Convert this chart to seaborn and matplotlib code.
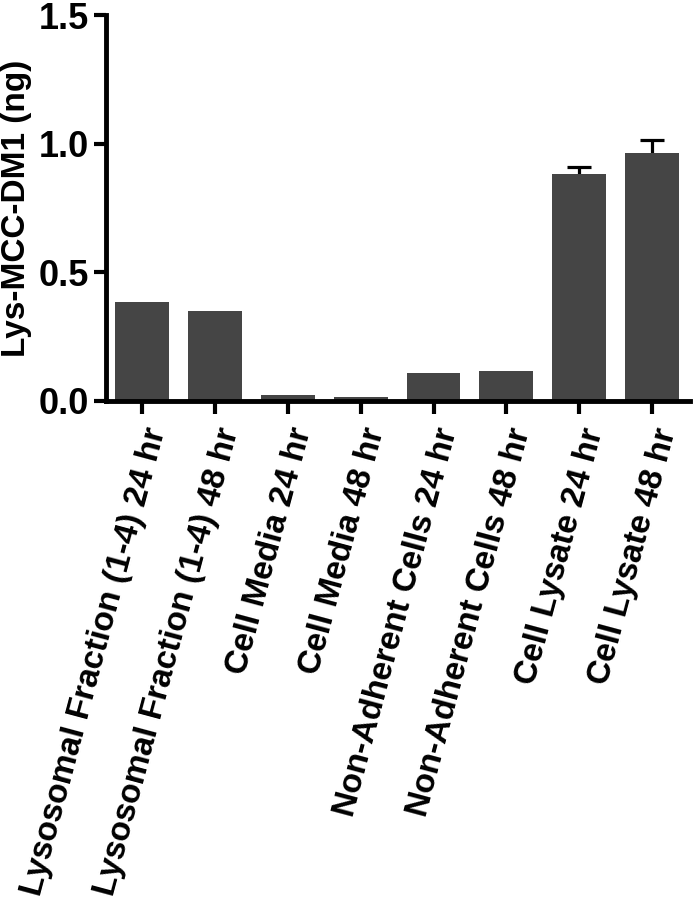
import matplotlib
matplotlib.use("Agg")
import matplotlib.pyplot as plt
import seaborn as sns
import pandas as pd

categories = [
    "Lysosomal Fraction (1-4) 24 hr",
    "Lysosomal Fraction (1-4) 48 hr",
    "Cell Media 24 hr",
    "Cell Media 48 hr",
    "Non-Adherent Cells 24 hr",
    "Non-Adherent Cells 48 hr",
    "Cell Lysate 24 hr",
    "Cell Lysate 48 hr",
]
values = [0.385, 0.350, 0.023, 0.014, 0.110, 0.115, 0.883, 0.964]
errors = [0.0, 0.0, 0.0, 0.0, 0.0, 0.0, 0.025, 0.050]
yticks = [0.0, 0.5, 1.0, 1.5]
ytick_labels = ["0.0", "0.5", "1.0", "1.5"]

sns.set_theme(style="ticks")
plt.rcParams['font.family'] = ['Liberation Sans', 'DejaVu Sans']
plt.rcParams['font.weight'] = 'bold'
for k in ['text.color', 'axes.labelcolor', 'xtick.color', 'ytick.color', 'axes.edgecolor']:
    plt.rcParams[k] = 'black'

df = pd.DataFrame({"cat": categories, "val": values})

fig = plt.figure(figsize=(6.93, 8.99), dpi=100)
ax = fig.add_axes([0.153, 0.554, 0.843, 0.429])

sns.barplot(data=df, x="cat", y="val", color="#454545", saturation=1,
            width=0.74, errorbar=None, ax=ax, zorder=2)
for p in ax.patches:
    p.set_linewidth(0)

xs = list(range(len(categories)))
ex = [x for x, e in zip(xs, errors) if e > 0]
ev = [v for v, e in zip(values, errors) if e > 0]
ee = [e for e in errors if e > 0]
ax.errorbar(ex, ev, yerr=ee, fmt='none', ecolor='black',
            elinewidth=2.3, capsize=8.5, capthick=2.3, zorder=1)

ax.set_xlim(-0.49, 7.52)
ax.set_ylim(0, 1.5)
ax.set_yticks(yticks)
ax.set_yticklabels(ytick_labels, fontsize=26, fontweight='bold')
ax.set_xticks(xs)
ax.set_xticklabels(categories, rotation=75, ha='right', rotation_mode='anchor',
                   fontsize=24, fontweight='bold')
ax.set_xlabel("")
ax.set_ylabel("Lys-MCC-DM1 (ng)", fontsize=24, fontweight='bold', labelpad=5)

for s in ["top", "right"]:
    ax.spines[s].set_visible(False)
for s in ["left", "bottom"]:
    ax.spines[s].set_linewidth(3.5)
    ax.spines[s].set_color("black")
ax.tick_params(axis='both', width=3, length=9, color='black')
ax.tick_params(axis='x', pad=8)
ax.tick_params(axis='y', pad=3)

fig.savefig("out.png", dpi=100)
